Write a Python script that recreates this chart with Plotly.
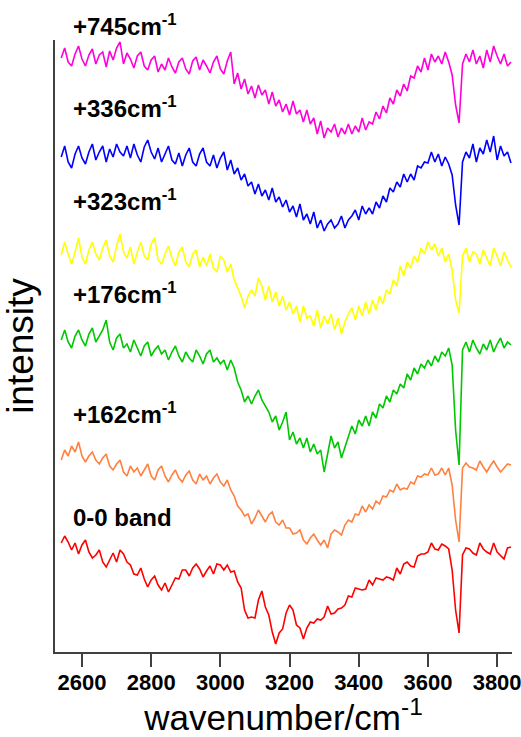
import plotly.graph_objects as go

# wavenumber grid (cm^-1)
wavenumber = list(range(2540, 3850, 10))

# intensities (arbitrary units, traces stacked with vertical offsets as in the figure)
band_745 = [594,604,590,586,598,606,593,586,597,603,
            588,597,600,585,601,592,604,610,588,599,
            593,584,596,600,586,582,592,596,580,588,
            582,594,585,579,590,594,583,578,591,595,
            582,592,586,579,590,596,583,578,591,600,
            568,579,563,573,558,566,554,567,557,562,
            548,560,546,552,540,548,537,551,538,542,
            530,542,528,534,518,531,514,524,520,528,
            515,524,518,528,518,526,520,534,522,530,
            528,540,533,546,539,554,548,562,556,568,
            561,576,574,586,580,594,582,598,590,596,
            588,600,590,577,547,529,588,598,590,602,
            588,596,584,602,590,606,596,588,598,586,
            590]
band_336 = [495,506,490,484,498,506,494,488,500,508,
            492,500,506,490,503,495,508,500,496,506,
            494,508,497,490,505,512,500,493,504,490,
            498,506,492,488,499,486,497,504,490,486,
            498,504,490,486,497,484,494,500,482,492,
            478,484,472,478,466,470,458,468,456,462,
            452,464,450,455,445,452,440,446,435,448,
            432,438,428,440,424,432,421,428,432,424,
            428,436,424,432,436,442,432,446,438,444,
            438,450,444,456,450,464,460,470,465,478,
            470,478,472,486,484,490,489,500,490,498,
            486,495,488,477,447,427,490,500,494,508,
            490,504,498,512,500,516,492,506,496,500,
            489]
band_323 = [397,410,398,388,400,414,395,388,402,410,
            398,392,404,412,396,390,406,418,400,394,
            405,388,400,410,396,392,408,414,392,388,
            398,406,394,386,400,405,390,385,398,402,
            385,395,386,398,384,380,396,392,380,388,
            372,364,356,344,356,362,356,374,366,352,
            366,350,360,346,356,342,350,338,346,330,
            346,334,336,326,342,324,336,328,338,322,
            334,318,330,338,344,332,346,336,350,338,
            352,342,356,348,362,358,372,366,386,376,
            390,384,396,390,404,398,410,402,408,396,
            404,390,398,382,352,339,396,404,390,400,
            398,388,402,394,386,404,396,386,400,392,
            385]
band_176 = [312,322,310,304,316,322,312,306,318,324,
            310,316,322,332,310,302,314,318,304,308,
            300,312,304,296,306,310,296,302,306,298,
            302,292,300,306,296,290,300,294,290,302,
            296,288,298,302,290,294,288,292,282,292,
            284,270,262,250,256,248,256,262,252,246,
            240,230,236,222,230,240,212,220,208,214,
            204,214,200,208,198,202,180,198,216,204,
            210,194,204,214,226,218,232,226,236,226,
            240,234,248,244,256,250,262,258,268,264,
            278,272,284,278,288,284,292,286,296,290,
            300,296,304,287,222,187,302,310,300,312,
            304,298,308,302,312,300,308,314,304,310,
            307]
band_162 = [192,202,196,206,200,210,196,190,196,200,
            192,188,194,198,186,182,188,192,180,176,
            186,180,184,176,182,188,176,172,182,186,
            176,170,177,182,174,170,177,181,172,168,
            178,172,176,168,174,178,170,166,172,162,
            156,146,142,136,138,128,134,142,136,130,
            137,140,130,127,132,124,124,118,119,122,
            112,108,114,118,112,107,112,104,118,122,
            120,117,127,132,130,138,137,146,140,147,
            143,151,148,156,155,162,160,168,162,164,
            163,170,168,176,175,178,177,184,177,178,
            184,177,184,167,132,110,184,189,185,184,
            182,191,185,180,186,191,185,180,184,188,
            187]
band_00 = [109,116,110,102,109,98,107,112,100,94,
           97,102,90,85,92,99,90,102,98,90,
           87,78,77,84,73,65,72,76,67,62,
           69,60,67,74,73,82,82,76,84,88,
           83,75,81,86,78,88,87,82,87,80,
           81,70,64,42,34,35,34,52,61,45,
           37,20,8,19,23,39,47,42,27,24,
           13,24,30,29,33,32,35,46,38,39,
           43,44,47,56,55,64,63,62,63,72,
           67,74,73,72,75,74,72,84,78,88,
           90,86,85,96,98,98,100,109,103,102,
           108,106,103,82,42,19,97,104,103,99,
           97,109,103,100,98,109,100,96,93,104,
           105]

labels = ["+745cm<sup>-1</sup>", "+336cm<sup>-1</sup>", "+323cm<sup>-1</sup>",
          "+176cm<sup>-1</sup>", "+162cm<sup>-1</sup>", "0-0 band"]
values = [band_745, band_336, band_323, band_176, band_162, band_00]
colors = ["#FF00DC", "#0000FF", "#FFFF00", "#00C800", "#FF8040", "#FF0000"]
label_y = [1.024, 0.891, 0.739, 0.587, 0.391, 0.220]   # paper fraction of plot height

tick_vals = [2600, 2800, 3000, 3200, 3400, 3600, 3800]
FONT = "Liberation Sans, Arial"

fig = go.Figure()
for name, vals, color in zip(labels, values, colors):
    fig.add_trace(go.Scatter(x=wavenumber, y=vals, mode="lines",
                             line=dict(color=color, width=1.6),
                             name=name, showlegend=False))

for name, ly in zip(labels, label_y):
    fig.add_annotation(x=0.034, xref="paper", y=ly, yref="paper",
                       text="<b>" + name + "</b>", showarrow=False,
                       xanchor="left", yanchor="middle",
                       font=dict(family=FONT, size=24, color="black"))

fig.update_layout(
    width=521, height=737,
    margin=dict(l=55, r=9, t=40, b=85, autoexpand=False),
    plot_bgcolor="white", paper_bgcolor="white",
    font=dict(family=FONT, color="black"),
)
fig.update_xaxes(range=[2522, 3843], tickvals=tick_vals,
                 ticktext=["<b>%d</b>" % t for t in tick_vals],
                 showline=True, linecolor="#404040", linewidth=2,
                 ticks="outside", ticklen=13, tickwidth=2, tickcolor="#404040",
                 tickfont=dict(size=22, family=FONT, color="black"),
                 ticklabeloverflow="allow", ticklabelstandoff=-3,
                 automargin=False,
                 showgrid=False, zeroline=False,
                 title=dict(text="wavenumber/cm<sup>-1</sup>", standoff=6,
                            font=dict(size=35, family=FONT, color="black")))
fig.update_yaxes(range=[0, 612], showline=True, linecolor="#404040", linewidth=2,
                 showticklabels=False, ticks="", showgrid=False, zeroline=False,
                 automargin=False,
                 title=dict(text="intensity", standoff=10,
                            font=dict(size=37, family=FONT, color="black")))

fig.write_html("out.html", config={"displayModeBar": False},
               post_script="document.body.style.margin='0px';"
                           "document.body.style.overflow='hidden';")
